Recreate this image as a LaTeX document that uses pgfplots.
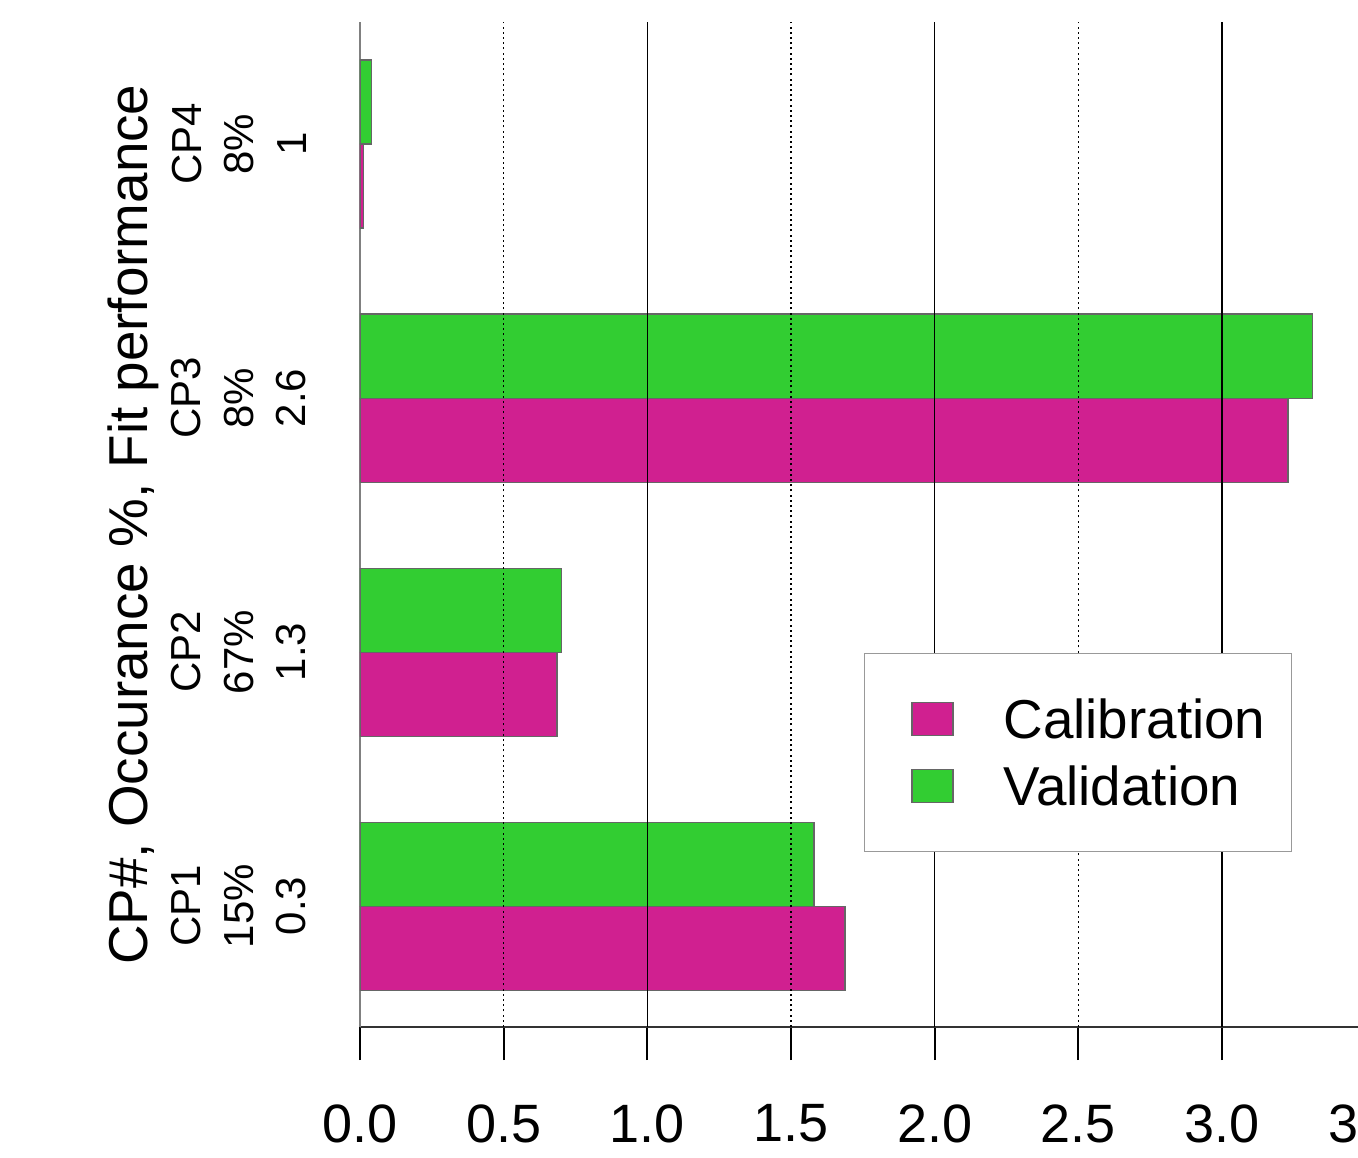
\documentclass[border=0pt]{standalone}
\usepackage{pgfplots}
\pgfplotsset{compat=1.18}
\usepackage{fontspec}
\setmainfont{Liberation Sans}
\definecolor{calib}{HTML}{D02090}
\definecolor{valid}{HTML}{32CD32}
\begin{document}
\begin{tikzpicture}
\begin{axis}[
  at={(0pt,0pt)}, anchor=south west,
  x=71.825pt, y=63.5pt,
  xmin=0, xmax=3.5, ymin=-0.476, ymax=3.48,
  axis x line=bottom, axis y line=left,
  axis line style={-},
  x axis line style={black!80, line width=0.5pt},
  y axis line style={black!50, line width=0.35pt},
  xtick={0,0.5,1,1.5,2,2.5,3,3.5},
  xticklabels={0.0,0.5,1.0,1.5,2.0,2.5,3.0,3.5},
  tick align=outside,
  xtick align=outside,
  major tick length=8.25pt,
  x tick style={draw=black, line width=0.45pt},
  xticklabel style={font=\fontsize{13.5}{16}\selectfont, inner sep=0pt, anchor=north, yshift=-11pt},
  ytick={0,1,2,3},
  yticklabels={{CP1\\15\%\\0.3},{CP2\\67\%\\1.3},{CP3\\8\%\\2.6},{CP4\\8\%\\1}},
  y tick style={draw=none},
  yticklabel shift=5pt,
  yticklabel style={rotate=90, anchor=south, align=center, inner sep=0pt, font=\fontsize{10.5}{13.1}\selectfont},
  ylabel={CP\#, Occurance \%, Fit performance},
  ylabel style={at={(axis description cs:-0.2257,0.5)}, anchor=center, font=\fontsize{13.7}{16}\selectfont},
  legend style={at={(axis description cs:0.5008,0.3727)}, anchor=north west,
    draw=black!40, line width=0.4pt, fill=white,
    inner xsep=6.5pt, inner ysep=11.4pt, row sep=6.75pt,
    font=\fontsize{13.7}{16}\selectfont,
    nodes={inner sep=0pt, text height=10pt, text depth=0pt}},
  legend cell align=left,
  legend image code/.code={
    \path (0pt,0pt) (28pt,0pt);
    \draw[#1] (5.25pt,-4.125pt) rectangle (15.5pt,4.125pt);
  },
]
\addplot[xbar, bar width=21pt, bar shift=-10.5pt, fill=calib, draw=black!60, line width=0.3pt]
  coordinates {(1.688,0) (0.686,1) (3.230,2) (0.012,3)};
\addlegendentry{Calibration}
\addplot[xbar, bar width=21pt, bar shift=10.5pt, fill=valid, draw=black!60, line width=0.3pt]
  coordinates {(1.580,0) (0.700,1) (3.314,2) (0.041,3)};
\addlegendentry{Validation}
% solid grid lines
\addplot[forget plot, black, line width=0.35pt] coordinates {(1,-0.476) (1,3.48)};
\addplot[forget plot, black, line width=0.35pt] coordinates {(2,-0.476) (2,3.48)};
\addplot[forget plot, black, line width=0.35pt] coordinates {(3,-0.476) (3,3.48)};
% dotted grid lines
\addplot[forget plot, black, line width=0.35pt, dash pattern=on 0.5pt off 0.8pt] coordinates {(0.5,-0.476) (0.5,3.48)};
\addplot[forget plot, black, line width=0.35pt, dash pattern=on 0.5pt off 0.8pt] coordinates {(1.5,-0.476) (1.5,3.48)};
\addplot[forget plot, black, line width=0.35pt, dash pattern=on 0.5pt off 0.8pt] coordinates {(2.5,-0.476) (2.5,3.48)};
\end{axis}
\pgfresetboundingbox
\path[use as bounding box] (-90pt,-32.5pt) rectangle (249.5pt,256.75pt);
\end{tikzpicture}
\end{document}
